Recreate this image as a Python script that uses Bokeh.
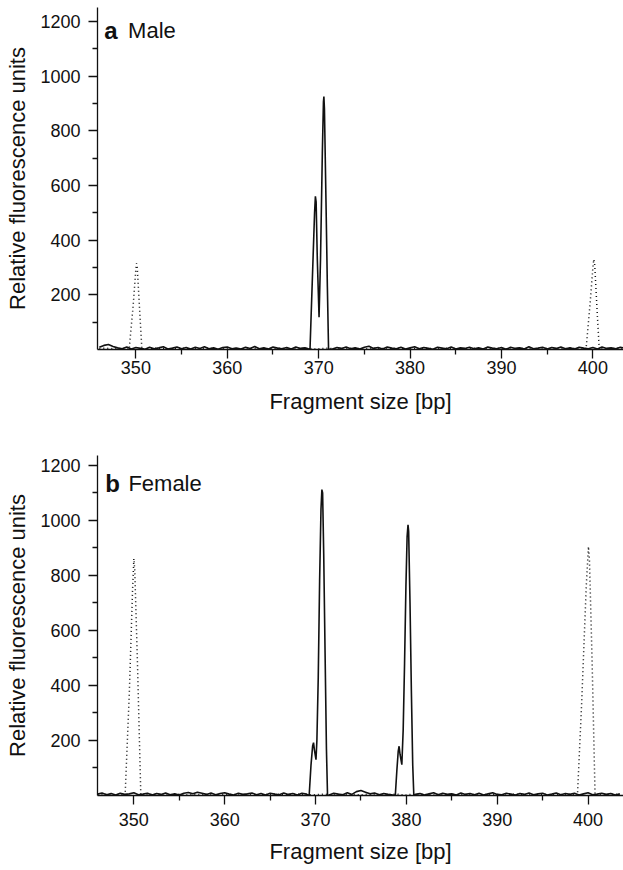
import numpy as np
from bokeh.plotting import figure
from bokeh.models import Range1d, FixedTicker, Label
from bokeh.layouts import column
from bokeh.embed import file_html
from bokeh.resources import INLINE

# ---------------- data ----------------
X0 = 346.0  # first baseline sample (bp), baseline sampled every 0.5 bp

x_major = [350, 360, 370, 380, 390, 400]
x_minor = [355, 365, 375, 385, 395]
y_major = [200, 400, 600, 800, 1000, 1200]
y_minor = [100, 300, 500, 700, 900, 1100]

# panel a (male): sample trace baseline noise
male_noise = [8, 15, 18, 11, 6, 3, 9, 2, 7, 4, 1, 8, 3, 6, 10, 2, 5, 9, 3, 7,
              2, 8, 4, 10, 3, 6, 1, 7, 9, 3, 5, 2, 8, 4, 11, 3, 6, 2, 9, 5,
              3, 7, 2, 9, 4, 6, 1, 8, 3, 10, 5, 2, 7, 4, 9, 3, 6, 2, 8, 12,
              4, 7, 2, 9, 5, 3, 8, 2, 6, 10, 3, 7, 4, 1, 8, 5, 3, 9, 2, 6,
              4, 8, 3, 6, 2, 9, 5, 3, 7, 1, 8, 4, 6, 2, 10, 3, 5, 8, 2, 7,
              4, 9, 3, 6, 2, 8, 5, 3, 7, 2, 9, 4, 6, 3, 8, 5]
male_peak_x = [369.05, 369.35, 369.55, 369.64, 369.72, 369.85, 370.04,
               370.2, 370.4, 370.52, 370.57, 370.63, 370.8, 370.95, 371.08]
male_peak_y = [0, 300, 500, 560, 540, 330, 118,
               330, 720, 905, 925, 880, 540, 230, 0]

# panel b (female): sample trace baseline noise
female_noise = [5, 9, 3, 7, 2, 8, 4, 6, 10, 3, 5, 8, 2, 7, 4, 9, 3, 6, 2, 8,
                11, 6, 12, 8, 4, 9, 3, 7, 10, 5, 2, 8, 4, 6, 9, 3, 7, 2, 8, 5,
                3, 9, 4, 7, 2, 8, 5, 3, 9, 4, 6, 2, 8, 5, 3, 10, 4, 14, 18, 12,
                6, 9, 3, 7, 4, 2, 8, 5, 3, 9, 4, 7, 2, 6, 10, 3, 8, 4, 6, 2,
                9, 4, 7, 3, 8, 2, 6, 10, 4, 3, 8, 5, 2, 7, 4, 9, 3, 6, 8, 2,
                5, 9, 3, 7, 4, 8, 2, 6, 10, 3, 5, 8, 4, 7, 2, 6]
female_peak1_x = [369.3, 369.5, 369.68, 369.78, 369.88, 370.05, 370.15, 370.3,
                  370.45, 370.6, 370.7, 370.78, 370.9, 371.05, 371.2, 371.32]
female_peak1_y = [0, 110, 180, 192, 165, 130, 200, 430,
                  780, 1040, 1112, 1100, 880, 520, 170, 0]
female_peak2_x = [378.78, 378.95, 379.1, 379.2, 379.3, 379.5, 379.65, 379.8,
                  379.95, 380.08, 380.18, 380.25, 380.4, 380.55, 380.7, 380.82]
female_peak2_y = [0, 90, 160, 179, 150, 112, 240, 480,
                  760, 940, 984, 960, 700, 380, 110, 0]

# size standard (dotted) traces
ladder_noise = [3, 5, 4, 3, 2, 4, 3, 5, 4, 3, 2, 4, 5, 3, 4, 2, 3, 4, 5, 3,
                2, 4, 3, 5, 4, 3, 2, 4, 5, 3, 4, 2, 3, 4, 5, 3, 2, 4, 3, 5,
                4, 3, 2, 4, 5, 3, 4, 2, 3, 4, 5, 3, 2, 4, 3, 5, 4, 3, 2, 4,
                5, 3, 4, 2, 3, 4, 5, 3, 2, 4, 3, 5, 4, 3, 2, 4, 5, 3, 4, 2,
                3, 4, 5, 3, 2, 4, 3, 5, 4, 3, 2, 4, 5, 3, 4, 2, 3, 4, 5, 3,
                2, 4, 3, 5, 4, 3, 2, 4, 5, 3, 4, 2, 3, 4, 5, 3]
male_std350_x = [349.26, 349.7, 350.0, 350.07, 350.15, 350.4, 350.66]
male_std350_y = [0, 160, 295, 315, 300, 150, 0]
male_std400_x = [399.25, 399.7, 400.0, 400.1, 400.2, 400.45, 400.7]
male_std400_y = [0, 170, 300, 330, 310, 150, 0]
female_std350_x = [349.04, 349.5, 349.85, 350.0, 350.1, 350.4, 350.77]
female_std350_y = [0, 370, 740, 861, 820, 480, 0]
female_std400_x = [398.83, 399.3, 399.8, 400.04, 400.15, 400.45, 400.77]
female_std400_y = [0, 340, 760, 905, 860, 480, 0]

FONT = "Liberation Sans"


def build(noise, peaks):
    bx = X0 + 0.5 * np.arange(len(noise))
    by = np.array(noise, dtype=float)
    keep = np.ones(len(bx), dtype=bool)
    for px, _ in peaks:
        keep &= ~((bx >= px[0]) & (bx <= px[-1]))
    xs = np.concatenate([bx[keep]] + [np.array(px, float) for px, _ in peaks])
    ys = np.concatenate([by[keep]] + [np.array(py, float) for _, py in peaks])
    order = np.argsort(xs, kind="stable")
    return xs[order], ys[order]


def make_panel(height, border_top, border_bottom, xr, yr, sample, ladder,
               letter, name, letter_pos, name_pos, tick_standoff, label_standoff):
    p = figure(width=623, height=height, output_backend="svg",
               toolbar_location=None, x_range=Range1d(*xr), y_range=Range1d(*yr),
               min_border_left=97, min_border_right=0,
               min_border_top=border_top, min_border_bottom=border_bottom)
    p.outline_line_color = None
    p.xgrid.grid_line_color = None
    p.ygrid.grid_line_color = None
    p.background_fill_color = "white"
    p.border_fill_color = "white"

    sx, sy = sample
    lx, ly = ladder
    p.line(lx, ly, line_color="#111111", line_width=1.5, line_dash="1 3")
    p.line(sx, sy, line_color="#111111", line_width=1.6)

    p.xaxis.ticker = FixedTicker(ticks=x_major, minor_ticks=x_minor)
    p.yaxis.ticker = FixedTicker(ticks=y_major, minor_ticks=y_minor)
    for ax in (p.xaxis[0], p.yaxis[0]):
        ax.axis_line_color = "#111111"
        ax.axis_line_width = 1.3
        ax.major_tick_line_color = "#111111"
        ax.minor_tick_line_color = "#111111"
        ax.major_tick_line_width = 1.3
        ax.minor_tick_line_width = 1.3
        ax.major_tick_in = 0
        ax.minor_tick_in = 0
        ax.major_tick_out = 9
        ax.minor_tick_out = 5
        ax.major_label_text_font = FONT
        ax.major_label_text_font_size = "18px"
        ax.major_label_text_color = "#111111"
        ax.axis_label_text_font = FONT
        ax.axis_label_text_font_size = "22px"
        ax.axis_label_text_font_style = "normal"
        ax.axis_label_text_color = "#111111"
    p.xaxis.axis_label = "Fragment size [bp]"
    p.yaxis.axis_label = "Relative fluorescence units"
    p.xaxis.major_label_standoff = tick_standoff
    p.xaxis.axis_label_standoff = label_standoff
    p.yaxis.major_label_standoff = 8
    p.yaxis.axis_label_standoff = 7

    p.add_layout(Label(x=letter_pos[0], y=letter_pos[1], text=letter,
                       text_font=FONT, text_font_size="24px",
                       text_font_style="bold", text_color="#111111",
                       text_baseline="alphabetic"))
    p.add_layout(Label(x=name_pos[0], y=name_pos[1], text=name,
                       text_font=FONT, text_font_size="22px",
                       text_color="#111111", text_baseline="alphabetic"))
    return p


male_sample = build(male_noise, [(male_peak_x, male_peak_y)])
male_ladder = build(ladder_noise, [(male_std350_x, male_std350_y),
                                   (male_std400_x, male_std400_y)])
female_sample = build(female_noise, [(female_peak1_x, female_peak1_y),
                                     (female_peak2_x, female_peak2_y)])
female_ladder = build(ladder_noise, [(female_std350_x, female_std350_y),
                                     (female_std400_x, female_std400_y)])

p1 = make_panel(428, 7, 79, (345.8, 403.35), (0, 1251), male_sample, male_ladder,
                "a", "Male", (346.55, 1168), (349.15, 1168), 2, 12)
p2 = make_panel(438, 27, 71, (346.0, 403.9), (0, 1236), female_sample, female_ladder,
                "b", "Female", (346.85, 1134), (349.4, 1134), 8, 10)

layout = column(p1, p2)
open("out.html", "w").write(file_html(layout, INLINE))
